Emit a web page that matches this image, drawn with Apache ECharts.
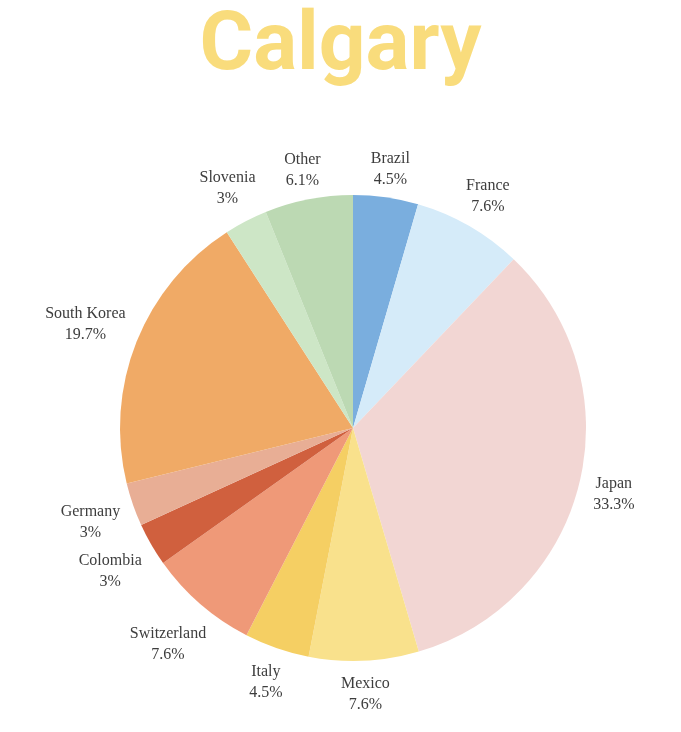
<!DOCTYPE html>
<html>
<head>
<meta charset="utf-8">
<script src="https://cdn.jsdelivr.net/npm/echarts@6/dist/echarts.min.js"></script>
<style>
  html, body { margin: 0; padding: 0; background: #fff; }
  #pieEch { width: 681px; height: 732px; }
</style>
</head>
<body>
<div id="pieEch"></div>
<script>
// data, clockwise from the top
const countries = ['Brazil', 'France', 'Japan', 'Mexico', 'Italy', 'Switzerland', 'Colombia', 'Germany', 'South Korea', 'Slovenia', 'Other']
const shares = [4.5, 7.6, 33.3, 7.6, 4.5, 7.6, 3, 3, 19.7, 3, 6.1]
const sliceColors = ['#7aaede', '#d5ebf9', '#f2d6d3', '#f9e18c', '#f5cf63', '#ef9978', '#d0603e', '#e8ae95', '#f0aa66', '#cde6c6', '#bcd9b3']

const cx = 353
const cy = 428
const r = 233
const gap = 11

const total = shares.reduce((a, b) => a + b, 0)
// mid angle of each slice (radians, 0 = top, clockwise)
const midAngles = []
let acc = 0
shares.forEach((v) => {
  midAngles.push(((acc + v / 2) / total) * Math.PI * 2)
  acc += v
})

const chart = echarts.init(document.getElementById('pieEch'))
chart.setOption({
  animation: false,
  title: {
    text: 'Calgary',
    left: 'center',
    top: 7,
    padding: 0,
    textStyle: {
      fontFamily: 'Roboto',
      fontWeight: 'bold',
      fontSize: 82,
      color: '#f9dc7c'
    }
  },
  series: [
    {
      type: 'pie',
      center: [cx, cy],
      radius: r,
      startAngle: 90,
      clockwise: true,
      avoidLabelOverlap: false,
      label: {
        show: true,
        position: 'outside',
        formatter: (p) => p.name + '\n' + p.value + '%',
        fontFamily: 'Liberation Serif',
        fontSize: 16,
        lineHeight: 21,
        color: '#3d3d3d',
        align: 'center'
      },
      labelLine: { show: false },
      labelLayout(params) {
        // centre each label on the slice's mid ray, just clear of the rim
        const a = midAngles[params.dataIndex]
        const dx = Math.sin(a)
        const dy = -Math.cos(a)
        const w = params.labelRect.width / 2
        const h = params.labelRect.height / 2 - 3
        const d = r + gap + Math.abs(dx) * w + Math.abs(dy) * h
        return {
          x: cx + d * dx,
          y: cy + d * dy + 3,
          align: 'center',
          verticalAlign: 'middle'
        }
      },
      itemStyle: { borderWidth: 0 },
      data: countries.map((name, i) => ({
        name,
        value: shares[i],
        itemStyle: { color: sliceColors[i] }
      }))
    }
  ]
})
</script>
</body>
</html>
